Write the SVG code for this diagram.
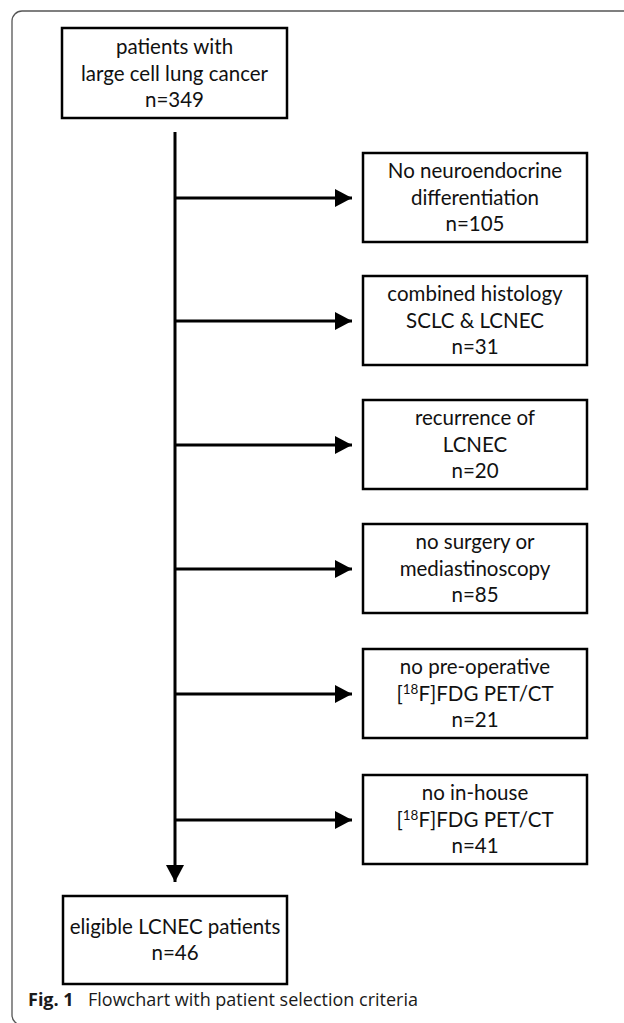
<svg xmlns="http://www.w3.org/2000/svg" width="624" height="1023" viewBox="0 0 624 1023">
<defs>
<style>
.box{fill:#fff;stroke:#000;stroke-width:2.5}
.t{font-family:Lato,"Open Sans","Liberation Sans",sans-serif;font-size:20.5px;fill:#111;text-anchor:middle}
.sup{font-size:13.5px}
.conn{stroke:#000;stroke-width:3;fill:none}
.cap{font-family:"Open Sans","Noto Sans","Liberation Sans",sans-serif;font-size:18px;fill:#1a1a1a}
</style>
<marker id="ah" viewBox="0 0 17 18" refX="17" refY="9" markerWidth="17" markerHeight="18" markerUnits="userSpaceOnUse" orient="auto">
<path d="M0,0 L17,9 L0,18 Z" fill="#000"/>
</marker>
</defs>
<rect width="624" height="1023" fill="#fff"/>
<rect x="12" y="11" width="700" height="1014" rx="10" fill="none" stroke="#555" stroke-width="1.3"/>

<g id="connectors">
<line class="conn" x1="175" y1="132" x2="175" y2="882" marker-end="url(#ah)"/>
<line class="conn" x1="175" y1="198" x2="352" y2="198" marker-end="url(#ah)"/>
<line class="conn" x1="175" y1="321" x2="352" y2="321" marker-end="url(#ah)"/>
<line class="conn" x1="175" y1="445" x2="352" y2="445" marker-end="url(#ah)"/>
<line class="conn" x1="175" y1="569" x2="352" y2="569" marker-end="url(#ah)"/>
<line class="conn" x1="175" y1="694" x2="352" y2="694" marker-end="url(#ah)"/>
<line class="conn" x1="175" y1="820" x2="352" y2="820" marker-end="url(#ah)"/>
</g>

<g id="start">
<rect class="box" x="62" y="28" width="225" height="90"/>
<text class="t" x="174.5" y="53.5">patients with</text>
<text class="t" x="174.5" y="80.5">large cell lung cancer</text>
<text class="t" x="174.5" y="106.5">n=349</text>
</g>

<g id="ex1">
<rect class="box" x="363" y="153" width="224" height="89"/>
<text class="t" x="475" y="178">No neuroendocrine</text>
<text class="t" x="475" y="205">differentiation</text>
<text class="t" x="475" y="231">n=105</text>
</g>

<g id="ex2">
<rect class="box" x="363" y="276" width="224" height="89"/>
<text class="t" x="475" y="301">combined histology</text>
<text class="t" x="475" y="328">SCLC &amp; LCNEC</text>
<text class="t" x="475" y="354">n=31</text>
</g>

<g id="ex3">
<rect class="box" x="363" y="400" width="224" height="89"/>
<text class="t" x="475" y="425">recurrence of</text>
<text class="t" x="475" y="452">LCNEC</text>
<text class="t" x="475" y="478">n=20</text>
</g>

<g id="ex4">
<rect class="box" x="363" y="524" width="224" height="89"/>
<text class="t" x="475" y="549">no surgery or</text>
<text class="t" x="475" y="576">mediastinoscopy</text>
<text class="t" x="475" y="602">n=85</text>
</g>

<g id="ex5">
<rect class="box" x="363" y="649" width="224" height="89"/>
<text class="t" x="475" y="674">no pre-operative</text>
<text class="t" x="475" y="701">[<tspan class="sup" dy="-7">18</tspan><tspan dy="7">F]FDG PET/CT</tspan></text>
<text class="t" x="475" y="727">n=21</text>
</g>

<g id="ex6">
<rect class="box" x="363" y="775" width="224" height="89"/>
<text class="t" x="475" y="800">no in-house</text>
<text class="t" x="475" y="827">[<tspan class="sup" dy="-7">18</tspan><tspan dy="7">F]FDG PET/CT</tspan></text>
<text class="t" x="475" y="853">n=41</text>
</g>

<g id="end">
<rect class="box" x="63" y="896" width="224" height="88"/>
<text class="t" x="175" y="934">eligible LCNEC patients</text>
<text class="t" x="175" y="960">n=46</text>
</g>

<text class="cap" x="28" y="1006"><tspan font-weight="bold">Fig. 1</tspan><tspan x="88">Flowchart with patient selection criteria</tspan></text>
</svg>
